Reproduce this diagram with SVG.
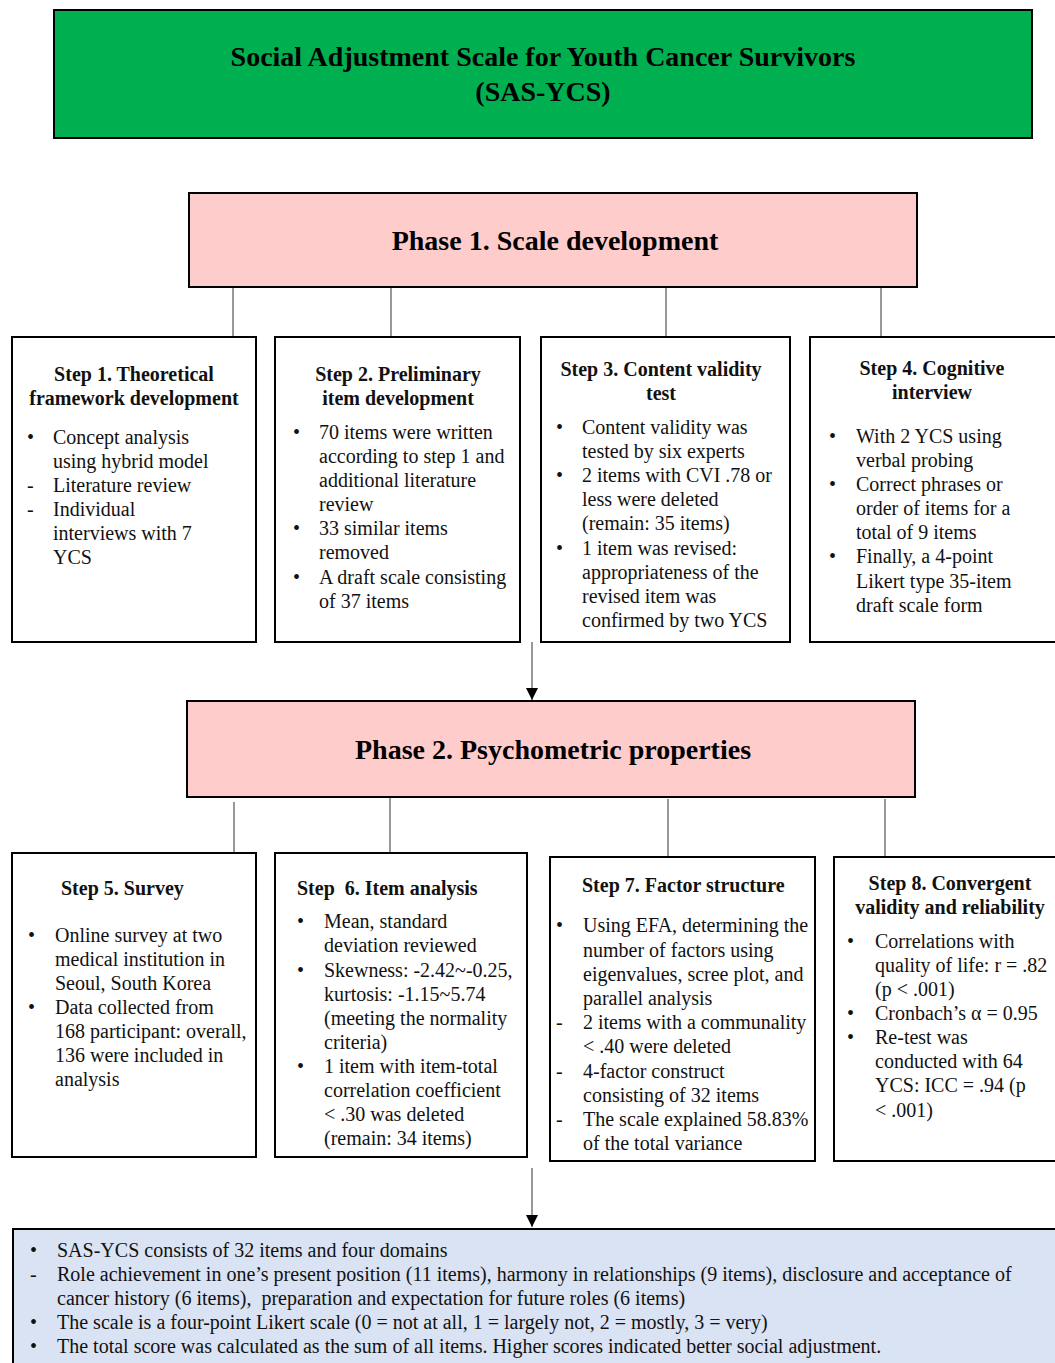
<svg xmlns="http://www.w3.org/2000/svg" width="1055" height="1363" viewBox="0 0 1055 1363">
<style>
.box{stroke:#000;stroke-width:2}
.step{fill:#fff}
.t{font-family:"Liberation Serif","Times New Roman",serif;font-size:20px;fill:#111}
.b{font-weight:bold}
.big{font-family:"Liberation Serif","Times New Roman",serif;font-size:28px;font-weight:bold;fill:#000}
.c{text-anchor:middle}
.ln{stroke:#333;stroke-width:1;fill:none}
</style>
<defs>
<marker id="ah" markerWidth="12" markerHeight="12" refX="12" refY="6" orient="auto" markerUnits="userSpaceOnUse">
<path d="M0,0 L12,6 L0,12 Z" fill="#000"/>
</marker>
</defs>
<rect width="1055" height="1363" fill="#fff"/>

<g id="connectors">
<line class="ln" x1="233" y1="287" x2="233" y2="337"/>
<line class="ln" x1="391" y1="287" x2="391" y2="337"/>
<line class="ln" x1="666" y1="287" x2="666" y2="337"/>
<line class="ln" x1="881" y1="287" x2="881" y2="337"/>
<line class="ln" x1="532" y1="642" x2="532" y2="700" marker-end="url(#ah)"/>
<line class="ln" x1="234" y1="802" x2="234" y2="853"/>
<line class="ln" x1="390" y1="797" x2="390" y2="853"/>
<line class="ln" x1="668" y1="799" x2="668" y2="856"/>
<line class="ln" x1="885" y1="799" x2="885" y2="856"/>
<line class="ln" x1="532" y1="1168" x2="532" y2="1227" marker-end="url(#ah)"/>
</g>

<g id="title">
<rect class="box" x="54" y="10" width="978" height="128" fill="#00B050"/>
<text class="big c" x="543" y="66">Social Adjustment Scale for Youth Cancer Survivors</text>
<text class="big c" x="543" y="101">(SAS-YCS)</text>
</g>

<g id="phase1">
<rect class="box" x="189" y="193" width="728" height="94" fill="#FFCCCC"/>
<text class="big c" x="555" y="250">Phase 1. Scale development</text>
</g>

<g id="step1">
<rect class="box step" x="12" y="337" width="244" height="305"/>
<text class="t b c" x="134" y="381">Step 1. Theoretical</text>
<text class="t b c" x="134" y="405">framework development</text>
<text class="t" x="27" y="444">•</text><text class="t" x="53" y="444">Concept analysis</text>
<text class="t" x="53" y="468">using hybrid model</text>
<text class="t" x="27" y="492">-</text><text class="t" x="53" y="492">Literature review</text>
<text class="t" x="27" y="516">-</text><text class="t" x="53" y="516">Individual</text>
<text class="t" x="53" y="540">interviews with 7</text>
<text class="t" x="53" y="564">YCS</text>
</g>

<g id="step2">
<rect class="box step" x="275" y="337" width="245" height="305"/>
<text class="t b c" x="398" y="381">Step 2. Preliminary</text>
<text class="t b c" x="398" y="405">item development</text>
<text class="t" x="293" y="439">•</text><text class="t" x="319" y="439">70 items were written</text>
<text class="t" x="319" y="463">according to step 1 and</text>
<text class="t" x="319" y="487">additional literature</text>
<text class="t" x="319" y="511">review</text>
<text class="t" x="293" y="535">•</text><text class="t" x="319" y="535">33 similar items</text>
<text class="t" x="319" y="559">removed</text>
<text class="t" x="293" y="584">•</text><text class="t" x="319" y="584">A draft scale consisting</text>
<text class="t" x="319" y="608">of 37 items</text>
</g>

<g id="step3">
<rect class="box step" x="541" y="337" width="249" height="305"/>
<text class="t b c" x="661" y="376">Step 3. Content validity</text>
<text class="t b c" x="661" y="400">test</text>
<text class="t" x="556" y="434">•</text><text class="t" x="582" y="434">Content validity was</text>
<text class="t" x="582" y="458">tested by six experts</text>
<text class="t" x="556" y="482">•</text><text class="t" x="582" y="482">2 items with CVI .78 or</text>
<text class="t" x="582" y="506">less were deleted</text>
<text class="t" x="582" y="530">(remain: 35 items)</text>
<text class="t" x="556" y="555">•</text><text class="t" x="582" y="555">1 item was revised:</text>
<text class="t" x="582" y="579">appropriateness of the</text>
<text class="t" x="582" y="603">revised item was</text>
<text class="t" x="582" y="627">confirmed by two YCS</text>
</g>

<g id="step4">
<rect class="box step" x="810" y="337" width="250" height="305"/>
<text class="t b c" x="932" y="375">Step 4. Cognitive</text>
<text class="t b c" x="932" y="399">interview</text>
<text class="t" x="829" y="443">•</text><text class="t" x="856" y="443">With 2 YCS using</text>
<text class="t" x="856" y="467">verbal probing</text>
<text class="t" x="829" y="491">•</text><text class="t" x="856" y="491">Correct phrases or</text>
<text class="t" x="856" y="515">order of items for a</text>
<text class="t" x="856" y="539">total of 9 items</text>
<text class="t" x="829" y="563">•</text><text class="t" x="856" y="563">Finally, a 4-point</text>
<text class="t" x="856" y="588">Likert type 35-item</text>
<text class="t" x="856" y="612">draft scale form</text>
</g>

<g id="phase2">
<rect class="box" x="187" y="701" width="728" height="96" fill="#FFCCCC"/>
<text class="big c" x="553" y="759">Phase 2. Psychometric properties</text>
</g>

<g id="step5">
<rect class="box step" x="12" y="853" width="244" height="304"/>
<text class="t b" x="61" y="895">Step 5. Survey</text>
<text class="t" x="28" y="942">•</text><text class="t" x="55" y="942">Online survey at two</text>
<text class="t" x="55" y="966">medical institution in</text>
<text class="t" x="55" y="990">Seoul, South Korea</text>
<text class="t" x="28" y="1014">•</text><text class="t" x="55" y="1014">Data collected from</text>
<text class="t" x="55" y="1038">168 participant: overall,</text>
<text class="t" x="55" y="1062">136 were included in</text>
<text class="t" x="55" y="1086">analysis</text>
</g>

<g id="step6">
<rect class="box step" x="275" y="853" width="252" height="304"/>
<text class="t b" x="297" y="895" xml:space="preserve">Step  6. Item analysis</text>
<text class="t" x="297" y="928">•</text><text class="t" x="324" y="928">Mean, standard</text>
<text class="t" x="324" y="952">deviation reviewed</text>
<text class="t" x="297" y="977">•</text><text class="t" x="324" y="977">Skewness: -2.42~-0.25,</text>
<text class="t" x="324" y="1001">kurtosis: -1.15~5.74</text>
<text class="t" x="324" y="1025">(meeting the normality</text>
<text class="t" x="324" y="1049">criteria)</text>
<text class="t" x="297" y="1073">•</text><text class="t" x="324" y="1073">1 item with item-total</text>
<text class="t" x="324" y="1097">correlation coefficient</text>
<text class="t" x="324" y="1121">&lt; .30 was deleted</text>
<text class="t" x="324" y="1145">(remain: 34 items)</text>
</g>

<g id="step7">
<rect class="box step" x="550" y="857" width="265" height="304"/>
<text class="t b" x="582" y="892">Step 7. Factor structure</text>
<text class="t" x="556" y="932">•</text><text class="t" x="583" y="932">Using EFA, determining the</text>
<text class="t" x="583" y="957">number of factors using</text>
<text class="t" x="583" y="981">eigenvalues, scree plot, and</text>
<text class="t" x="583" y="1005">parallel analysis</text>
<text class="t" x="556" y="1029">-</text><text class="t" x="583" y="1029">2 items with a communality</text>
<text class="t" x="583" y="1053">&lt; .40 were deleted</text>
<text class="t" x="556" y="1078">-</text><text class="t" x="583" y="1078">4-factor construct</text>
<text class="t" x="583" y="1102">consisting of 32 items</text>
<text class="t" x="556" y="1126">-</text><text class="t" x="583" y="1126">The scale explained 58.83%</text>
<text class="t" x="583" y="1150">of the total variance</text>
</g>

<g id="step8">
<rect class="box step" x="834" y="857" width="230" height="304"/>
<text class="t b c" x="950" y="890">Step 8. Convergent</text>
<text class="t b c" x="950" y="914">validity and reliability</text>
<text class="t" x="847" y="948">•</text><text class="t" x="875" y="948">Correlations with</text>
<text class="t" x="875" y="972">quality of life: r = .82</text>
<text class="t" x="875" y="996">(p &lt; .001)</text>
<text class="t" x="847" y="1020">•</text><text class="t" x="875" y="1020">Cronbach’s α = 0.95</text>
<text class="t" x="847" y="1044">•</text><text class="t" x="875" y="1044">Re-test was</text>
<text class="t" x="875" y="1068">conducted with 64</text>
<text class="t" x="875" y="1092">YCS: ICC = .94 (p</text>
<text class="t" x="875" y="1117">&lt; .001)</text>
</g>

<g id="summary">
<rect class="box" x="13" y="1229" width="1060" height="150" fill="#DAE3F3"/>
<text class="t" x="30" y="1257">•</text><text class="t" x="57" y="1257">SAS-YCS consists of 32 items and four domains</text>
<text class="t" x="30" y="1281">-</text><text class="t" x="57" y="1281">Role achievement in one’s present position (11 items), harmony in relationships (9 items), disclosure and acceptance of</text>
<text class="t" x="57" y="1305" xml:space="preserve">cancer history (6 items),  preparation and expectation for future roles (6 items)</text>
<text class="t" x="30" y="1329">•</text><text class="t" x="57" y="1329">The scale is a four-point Likert scale (0 = not at all, 1 = largely not, 2 = mostly, 3 = very)</text>
<text class="t" x="30" y="1353">•</text><text class="t" x="57" y="1353">The total score was calculated as the sum of all items. Higher scores indicated better social adjustment.</text>
</g>
</svg>
